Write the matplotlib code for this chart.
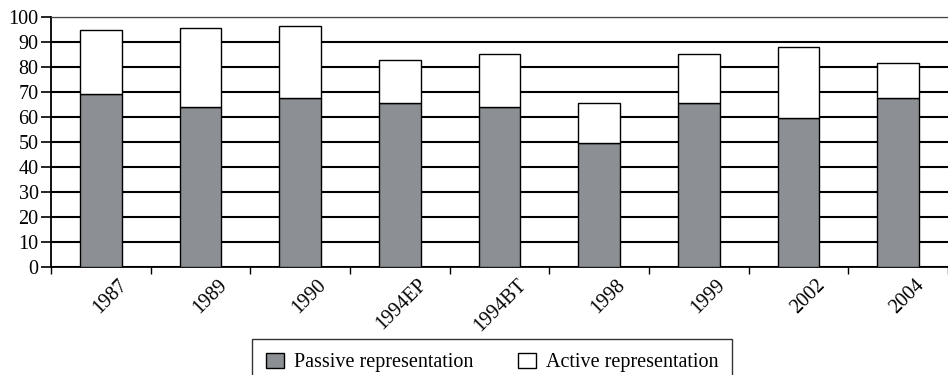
import matplotlib
matplotlib.use("Agg")
import matplotlib.pyplot as plt
import matplotlib.transforms as mtransforms
import numpy as np

# Election labels and shares (%)
elections = ["1987", "1989", "1990", "1994EP", "1994BT", "1998", "1999", "2002", "2004"]
passive = [69.1, 64.1, 67.7, 65.5, 64.1, 49.5, 65.5, 59.5, 67.7]
total = [94.9, 95.5, 96.5, 83.0, 85.2, 65.5, 85.2, 87.9, 81.5]
active = [t - p for t, p in zip(total, passive)]

plt.rcParams["font.family"] = ["Liberation Serif", "DejaVu Serif"]
FS = 14.5

fig = plt.figure(figsize=(9.48, 3.75), dpi=100)
ax = fig.add_axes([51 / 948, 1 - 267 / 375, 897 / 948, 250 / 375])

x = np.arange(len(elections))
width = 0.42
ax.bar(x, passive, width, color="#8c8f93", edgecolor="black", linewidth=1.0,
       label="Passive representation", zorder=3)
ax.bar(x, active, width, bottom=passive, color="white", edgecolor="black",
       linewidth=1.0, label="Active representation", zorder=3)

ax.set_xlim(-0.5, len(elections) - 0.5)
ax.set_ylim(0, 100)
ax.set_yticks(np.arange(0, 101, 10))
ax.tick_params(axis="y", direction="out", length=7, width=1.2, labelsize=FS, pad=2)

# horizontal gridlines
ax.yaxis.grid(True, color="black", linewidth=1.5, zorder=0)
ax.set_axisbelow(True)
for t in ax.yaxis.get_major_ticks():
    if t.get_loc() >= 100:
        t.gridline.set_visible(False)

# category boundary ticks, labels at the centres
ax.set_xticks(np.arange(-0.5, len(elections), 1.0), minor=True)
ax.tick_params(axis="x", which="minor", direction="out", length=5, width=1.0)
ax.set_xticks(x)
ax.set_xticklabels(elections, rotation=45, ha="right", rotation_mode="anchor")
ax.tick_params(axis="x", which="major", length=0, labelsize=FS, pad=6)
shift = mtransforms.ScaledTranslation(0.17, 0, fig.dpi_scale_trans)
for lab in ax.get_xticklabels():
    lab.set_transform(lab.get_transform() + shift)

ax.spines["right"].set_visible(False)
ax.spines["top"].set_color("#444444")
ax.spines["top"].set_linewidth(0.9)
ax.spines["left"].set_linewidth(1.3)
ax.spines["bottom"].set_linewidth(1.3)

leg = fig.legend(loc="upper center", bbox_to_anchor=(492 / 948, 1 - 339 / 375),
                 ncol=2, frameon=True, fancybox=False, edgecolor="black",
                 fontsize=FS, handlelength=0.9, handleheight=0.75,
                 handletextpad=0.5, columnspacing=2.2, borderpad=0.7,
                 borderaxespad=0)
leg.get_frame().set_linewidth(1.0)

fig.savefig("out.png", dpi=100)
